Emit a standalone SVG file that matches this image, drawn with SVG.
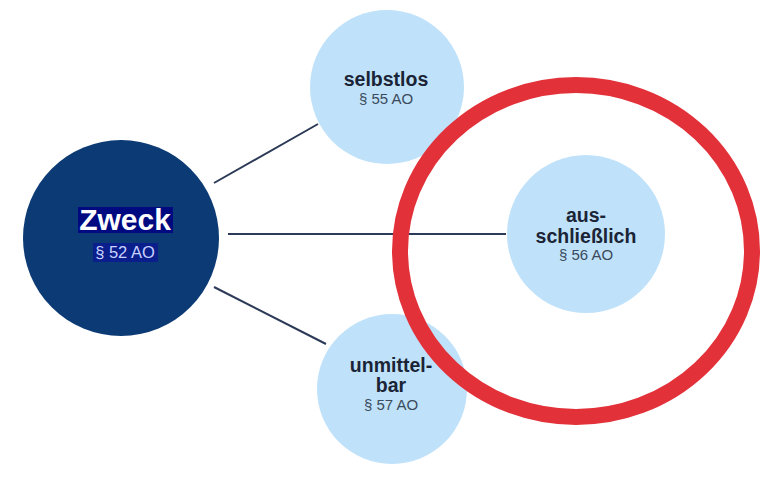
<svg xmlns="http://www.w3.org/2000/svg" width="762" height="479" viewBox="0 0 762 479">
<style>
.sub{fill:#bfe2fa}
.t{font-family:"Liberation Sans",Arial,sans-serif;text-anchor:middle}
.b{font-weight:bold;font-size:19.5px;fill:#1b2436}
.s{font-size:15px;fill:#3b4a5c}
.ln{stroke:#2c3a57;stroke-width:2;fill:none}
</style>
<rect width="762" height="479" fill="#ffffff"/>
<g id="connectors">
<line class="ln" x1="214" y1="183" x2="318" y2="124"/>
<line class="ln" x1="228" y1="234" x2="506" y2="234"/>
<line class="ln" x1="214" y1="287" x2="326" y2="344"/>
</g>
<g id="zweck">
<circle cx="121" cy="238" r="98" fill="#0b3a74"/>
<rect x="78" y="207" width="95" height="26" fill="#000a80"/>
<rect x="93" y="243" width="65" height="19" fill="#0a1e8c"/>
<text class="t" x="125" y="230" font-size="30" font-weight="bold" fill="#ffffff">Zweck</text>
<text class="t" x="125" y="258" font-size="16.5" fill="#c9d2ff">§ 52 AO</text>
</g>
<g id="selbstlos">
<circle class="sub" cx="387" cy="87" r="77"/>
<text class="t b" x="386" y="86">selbstlos</text>
<text class="t s" x="386" y="104">§ 55 AO</text>
</g>
<g id="unmittelbar">
<circle class="sub" cx="392" cy="389" r="75"/>
<text class="t b" x="391" y="372">unmittel-</text>
<text class="t b" x="391" y="392">bar</text>
<text class="t s" x="391" y="410">§ 57 AO</text>
</g>
<g id="ausschliesslich">
<circle class="sub" cx="586" cy="234" r="79"/>
<text class="t b" x="586" y="222">aus-</text>
<text class="t b" x="586" y="243">schließlich</text>
<text class="t s" x="586" y="260">§ 56 AO</text>
</g>
<g id="highlight">
<ellipse cx="576" cy="251" rx="176" ry="166" fill="none" stroke="#e3313a" stroke-width="16"/>
</g>
</svg>
